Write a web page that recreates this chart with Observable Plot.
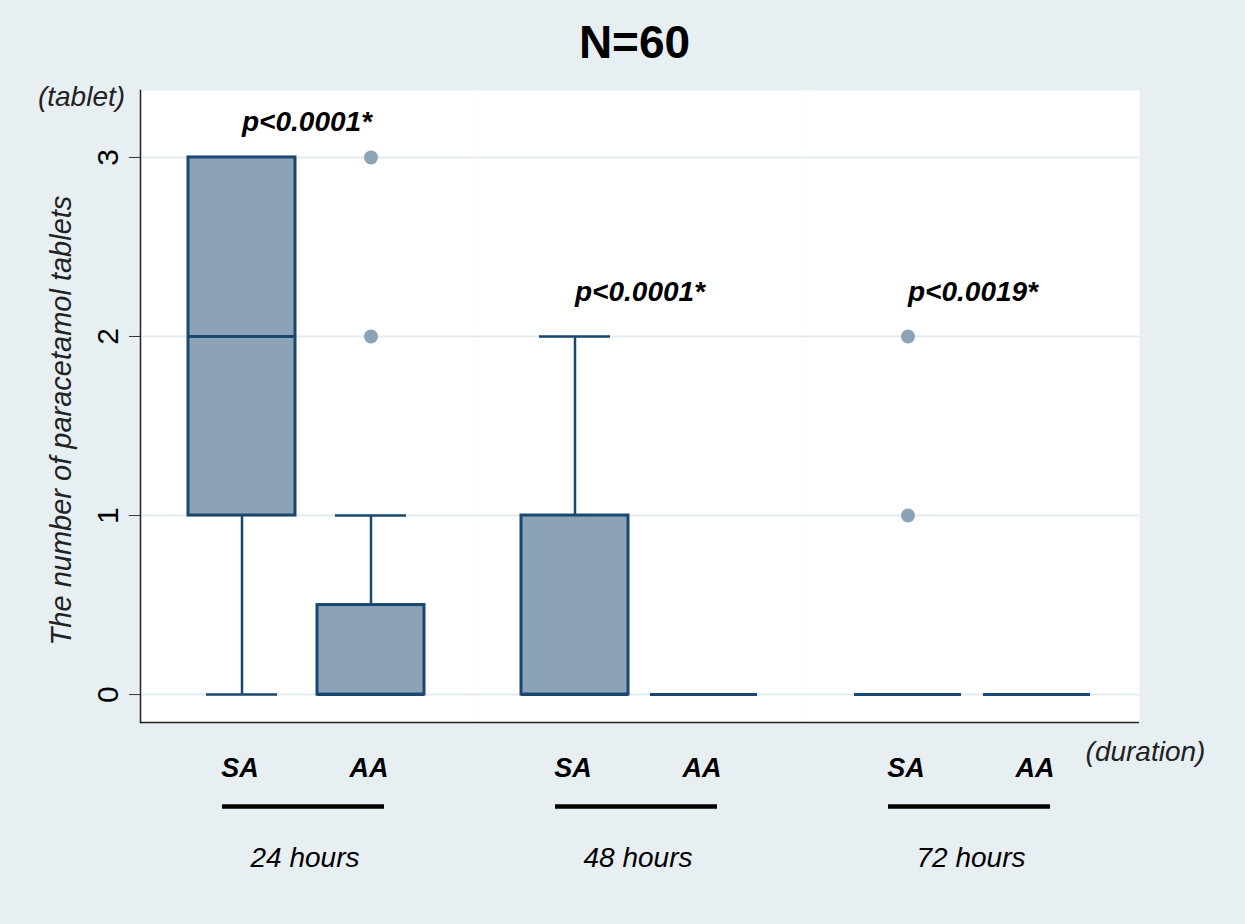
<!DOCTYPE html>
<html>
<head>
<meta charset="utf-8">
<script src="https://cdn.jsdelivr.net/npm/d3@7"></script>
<script src="https://cdn.jsdelivr.net/npm/@observablehq/plot@0.6"></script>
<style>
  html, body { margin: 0; padding: 0; background: #e8eff2; }
  #wrap { position: relative; width: 1245px; height: 924px; background: #e8eff2; overflow: hidden; }
  #title { position: absolute; left: 24px; top: 19px; width: 1221px; text-align: center;
           font-family: "Liberation Sans", Arial, sans-serif; font-weight: bold; font-size: 46px; line-height: 46px; color: #000; }
  #chart { position: absolute; left: 0; top: 60px; }
</style>
</head>
<body>
<div id="wrap">
  <div id="title">N=60</div>
  <div id="chart"></div>
</div>
<script>
// ---- data ----
const durationLevels = ["24 hours", "48 hours", "72 hours"];
const groupLevels = ["SA", "AA"];
const durations = ["24 hours", "24 hours", "48 hours", "48 hours", "72 hours", "72 hours"];
const groups = ["SA", "AA", "SA", "AA", "SA", "AA"];
const whiskerLow = [0, 0, 0, 0, 0, 0];
const quartile1 = [1, 0, 0, 0, 0, 0];
const medians = [2, 0, 0, 0, 0, 0];
const quartile3 = [3, 0.5, 1, 0, 0, 0];
const whiskerHigh = [3, 1, 2, 0, 0, 0];
const outlierDurations = ["24 hours", "24 hours", "72 hours", "72 hours"];
const outlierGroups = ["AA", "AA", "SA", "SA"];
const outlierValues = [3, 2, 2, 1];
const pLabels = ["p<0.0001*", "p<0.0001*", "p<0.0019*"];
const pLabelHeights = [3.2, 2.25, 2.25];
const yTicks = [0, 1, 2, 3];
const yDomain = [-0.156, 3.374];
const yTitle = "The number of paracetamol tablets";
const yUnit = "(tablet)";
const xUnit = "(duration)";

// ---- tables built from the arrays ----
const boxes = durations.map((d, i) => ({
  duration: d, group: groups[i], lo: whiskerLow[i], q1: quartile1[i],
  med: medians[i], q3: quartile3[i], hi: whiskerHigh[i]
}));
const outliers = outlierValues.map((v, i) => ({duration: outlierDurations[i], group: outlierGroups[i], value: v}));
const pRows = durationLevels.map((d, i) => ({duration: d, label: pLabels[i], y: pLabelHeights[i]}));

const FONT = "Liberation Sans, Arial, sans-serif";
const NAVY = "#1a476f";
const FILL = "#8ca3b7";

const chart = Plot.plot({
  width: 1245,
  height: 864,
  marginLeft: 139,
  marginRight: 105,
  marginTop: 30,
  marginBottom: 202,
  style: {background: "transparent", fontFamily: FONT, color: "#000", overflow: "visible"},
  fx: {domain: durationLevels, padding: 0},
  x: {domain: groupLevels, paddingInner: 0.17, paddingOuter: 0.37},
  y: {domain: yDomain},
  marks: [
    Plot.frame({fill: "white", stroke: null}),
    Plot.gridY(yTicks, {stroke: "#e3ebef", strokeOpacity: 1, strokeWidth: 2}),
    Plot.axisY(yTicks, {tickRotate: -90, tickSize: 11, tickPadding: 12, tickFormat: d => String(d), fontSize: 30,
      stroke: "#333", label: null, fontFamily: FONT}),
    Plot.axisX({tickSize: 0, tickPadding: 35, fontSize: 27, fontWeight: "bold", fontStyle: "italic", label: null, dx: -2, fontFamily: FONT}),
    Plot.axisFx({anchor: "bottom", tickSize: 0, tickPadding: 125, fontSize: 28, fontStyle: "italic", label: null, dx: -2, fontFamily: FONT}),
    // whiskers
    Plot.ruleX(boxes.filter(d => d.hi > d.q3), {x: "group", fx: "duration", y1: "q3", y2: "hi", stroke: NAVY, strokeWidth: 2.5}),
    Plot.ruleX(boxes.filter(d => d.lo < d.q1), {x: "group", fx: "duration", y1: "lo", y2: "q1", stroke: NAVY, strokeWidth: 2.5}),
    Plot.tickY(boxes.filter(d => d.hi > d.q3), {x: "group", fx: "duration", y: "hi", stroke: NAVY, strokeWidth: 2.5, inset: 18}),
    Plot.tickY(boxes.filter(d => d.lo < d.q1), {x: "group", fx: "duration", y: "lo", stroke: NAVY, strokeWidth: 2.5, inset: 18}),
    // boxes
    Plot.barY(boxes, {x: "group", fx: "duration", y1: "q1", y2: "q3", fill: FILL, stroke: NAVY, strokeWidth: 3}),
    Plot.tickY(boxes, {x: "group", fx: "duration", y: "med", stroke: NAVY, strokeWidth: 3}),
    // outside values
    Plot.dot(outliers, {x: "group", fx: "duration", y: "value", r: 7, fill: FILL, stroke: null}),
    // axis lines
    Plot.ruleY([yDomain[0]], {stroke: "#222", strokeWidth: 1.5}),
    Plot.frame({anchor: "left", facetAnchor: "left", stroke: "#222", strokeWidth: 1.5}),
    // p-values
    Plot.text(pRows, {fx: "duration", y: "y", text: "label", fontSize: 28, fontWeight: "bold", fontStyle: "italic", fill: "#000"}),
    // group underlines
    Plot.ruleY(durationLevels, {fx: d => d, x1: () => groupLevels[0], x2: () => groupLevels[1], y: () => yDomain[0],
      dy: 84, insetLeft: 34, insetRight: 40, stroke: "#000", strokeWidth: 4.5}),
    // axis titles
    Plot.text([yTitle], {fx: () => durationLevels[0], text: d => d, frameAnchor: "left", rotate: -90, dx: -79, dy: 14,
      textAnchor: "middle", lineAnchor: "middle", fontSize: 29, fontStyle: "italic", fill: "#222"}),
    Plot.text([yUnit], {fx: () => durationLevels[0], text: d => d, frameAnchor: "top-left", dx: -59, dy: 7,
      textAnchor: "middle", lineAnchor: "middle", fontSize: 28, fontStyle: "italic", fill: "#222"}),
    Plot.text([xUnit], {fx: () => durationLevels[2], text: d => d, frameAnchor: "bottom-right", dx: 6, dy: 30,
      textAnchor: "middle", lineAnchor: "middle", fontSize: 28, fontStyle: "italic", fill: "#222"})
  ]
});
document.getElementById("chart").appendChild(chart);
</script>
</body>
</html>
